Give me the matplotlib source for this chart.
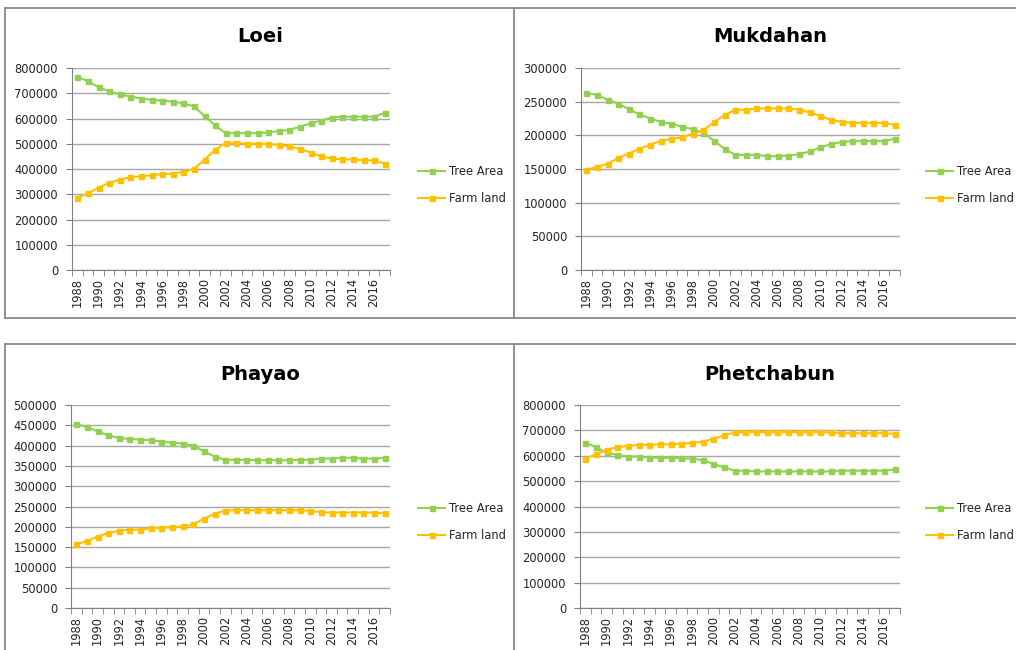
import numpy as np
import matplotlib
matplotlib.use('Agg')
import matplotlib.pyplot as plt
from matplotlib.lines import Line2D

# data
years = list(range(1988, 2018))

loei_tree = [765000, 748000, 724000, 708000, 696000, 687000, 679000, 674000, 671000, 667000,
             660000, 648000, 610000, 573000, 542000, 542000, 542000, 542000, 545000, 550000,
             555000, 567000, 581000, 592000, 603000, 607000, 607000, 607000, 607000, 622000]
loei_farm = [287000, 303000, 326000, 345000, 358000, 367000, 371000, 375000, 379000, 382000,
             388000, 400000, 437000, 476000, 503000, 504000, 500000, 500000, 499000, 496000,
             490000, 480000, 465000, 450000, 442000, 438000, 438000, 434000, 434000, 421000]

muk_tree = [263000, 260000, 253000, 247000, 239000, 231000, 225000, 220000, 217000, 213000,
            209000, 204000, 192000, 180000, 171000, 171000, 171000, 169000, 169000, 170000,
            172000, 176000, 182000, 187000, 190000, 191500, 191500, 191500, 191500, 195000]
muk_farm = [149000, 153000, 158000, 166000, 173000, 180000, 186000, 191500, 195000, 197000,
            202500, 207500, 219500, 230000, 238000, 238000, 240000, 240000, 240000, 240000,
            238000, 234000, 229000, 223000, 220000, 218500, 218500, 218500, 218500, 215500]

pha_tree = [453000, 446000, 435000, 425000, 419000, 416000, 415000, 413000, 410000, 407000,
            405000, 400000, 386000, 373000, 365000, 365000, 365000, 364000, 364000, 364000,
            364000, 365000, 365000, 368000, 368000, 370000, 370000, 368000, 368000, 370000]
pha_farm = [157000, 165000, 176000, 185000, 190000, 193000, 193000, 196000, 198000, 199000,
            201000, 206000, 220000, 232000, 240000, 241000, 241000, 241000, 241000, 241000,
            241000, 241000, 239000, 236000, 235000, 235000, 235000, 235000, 235000, 233000]

phe_tree = [651000, 634000, 611000, 604000, 597000, 597000, 593000, 592000, 592000, 590000,
            588000, 583000, 568000, 554000, 541000, 541000, 538000, 538000, 538000, 538000,
            538000, 538000, 538000, 538000, 541000, 541000, 541000, 541000, 541000, 546000]
phe_farm = [588000, 606000, 624000, 634000, 639000, 643000, 643000, 645000, 645000, 647000,
            651000, 655000, 667000, 680000, 692000, 693000, 693000, 693000, 693000, 693000,
            693000, 693000, 693000, 692000, 689000, 689000, 689000, 689000, 689000, 686000]

W, H = 1016, 650
fig = plt.figure(figsize=(W / 100, H / 100), dpi=100)
fig.patch.set_facecolor('white')

green = '#92D050'
orange = '#FFC000'
txt = '#262626'


def px_axes(l, r, t, b):
    return fig.add_axes([l / W, 1 - b / H, (r - l) / W, (b - t) / H])


def draw_panel(box, title, title_xy, tree, farm, ymax, ystep, leg_xy):
    ax = px_axes(*box)
    x = np.arange(len(years))
    ax.plot(x, tree, color=green, lw=1.5, marker='s', ms=3.6, label='Tree Area')
    ax.plot(x, farm, color=orange, lw=1.5, marker='s', ms=3.6, label='Farm land')
    ax.set_xlim(-0.5, len(years) - 0.5)
    ax.set_ylim(0, ymax)
    ax.set_yticks(np.arange(0, ymax + 1, ystep))
    ax.set_yticklabels([str(int(v)) for v in np.arange(0, ymax + 1, ystep)])
    ax.yaxis.grid(True, color='#a6a6a6', lw=1)
    ax.set_axisbelow(True)
    ax.set_xticks(x[::2])
    ax.set_xticklabels([str(y) for y in years[::2]], rotation=90)
    ax.set_xticks(np.arange(-0.5, len(years)), minor=True)
    ax.tick_params(axis='x', which='major', length=0, pad=5.5, labelsize=8.3, labelcolor=txt)
    ax.tick_params(axis='x', which='minor', length=4, color='#808080', direction='out')
    ax.tick_params(axis='y', length=4, color='#808080', labelsize=8.3, labelcolor=txt, pad=6)
    for s in ['top', 'right']:
        ax.spines[s].set_visible(False)
    for s in ['left', 'bottom']:
        ax.spines[s].set_color('#808080')
    fig.text(title_xy[0] / W, 1 - title_xy[1] / H, title, ha='center', va='center',
             fontsize=14, fontweight='bold', color='black')
    ax.legend(loc='center left', bbox_to_anchor=(leg_xy[0] / W, 1 - leg_xy[1] / H),
              bbox_transform=fig.transFigure, frameon=False, fontsize=8.3,
              handlelength=2.4, labelspacing=1.25, handletextpad=0.3, borderpad=0,
              labelcolor=txt)
    return ax


draw_panel((72, 390, 68, 270), 'Loei', (260, 36), loei_tree, loei_farm, 800000, 100000, (412, 185))
draw_panel((581, 900, 68, 270), 'Mukdahan', (770, 37), muk_tree, muk_farm, 300000, 50000, (920, 185))
draw_panel((71, 390, 405, 608), 'Phayao', (260, 374), pha_tree, pha_farm, 500000, 50000, (412, 522))
draw_panel((580, 900, 405, 608), 'Phetchabun', (770, 374), phe_tree, phe_farm, 800000, 100000, (920, 522))

# panel frames
frame = '#888888'
def hline(y, x0, x1):
    fig.add_artist(Line2D([x0 / W, x1 / W], [1 - y / H, 1 - y / H], color=frame, lw=1.3))
def vline(x, y0, y1):
    fig.add_artist(Line2D([x / W, x / W], [1 - y0 / H, 1 - y1 / H], color=frame, lw=1.3))

hline(8, 5, 1016)
hline(318, 5, 1016)
vline(5, 8, 318)
vline(514, 8, 318)
hline(344, 5, 1016)
vline(5, 344, 650)
vline(514, 344, 650)

fig.savefig('out.png', dpi=100, facecolor='white')
